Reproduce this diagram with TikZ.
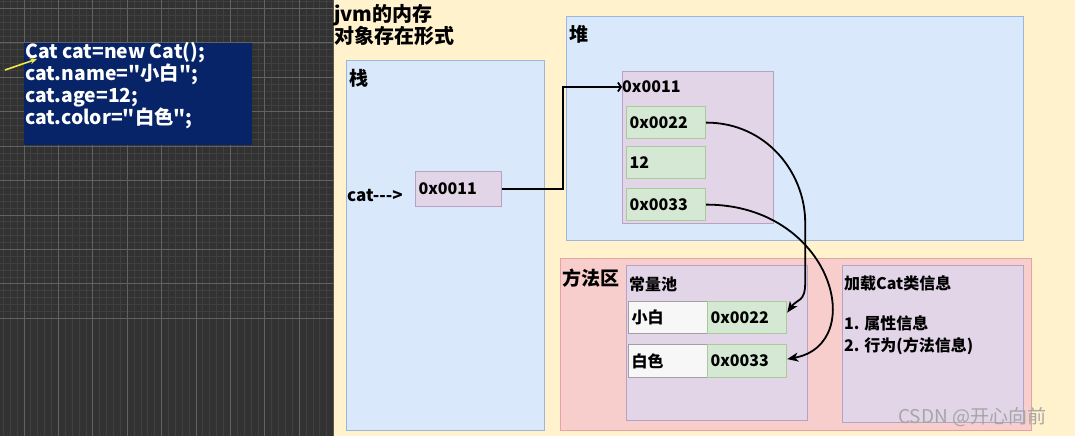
\documentclass[tikz,border=0pt]{standalone}
\usepackage{fontspec}
\setmainfont{Noto Sans CJK SC}
\newfontfamily\plainfont{Noto Sans CJK SC}
\usetikzlibrary{arrows.meta}
\definecolor{gridbg}{HTML}{323232}
\definecolor{gridminor}{HTML}{404040}
\definecolor{gridmajor}{HTML}{626262}
\definecolor{codebg}{HTML}{082468}
\definecolor{paper}{HTML}{FFF2CC}
\definecolor{bluefill}{HTML}{DAE8FC}
\definecolor{blueline}{HTML}{9DB6DC}
\definecolor{purplefill}{HTML}{E1D5E7}
\definecolor{purpleline}{HTML}{B7A2C6}
\definecolor{greenfill}{HTML}{D5E8D4}
\definecolor{greenline}{HTML}{A9CB9A}
\definecolor{redfill}{HTML}{F8CECC}
\definecolor{redline}{HTML}{E5A3A1}
\definecolor{whitefill}{HTML}{F7F7F7}
\definecolor{whiteline}{HTML}{A0A0A0}
\definecolor{pointer}{HTML}{F2E84A}
\newcommand{\lbl}[1]{\bfseries\fontsize{#1}{22}\selectfont}

\begin{document}
\begin{tikzpicture}[x=1pt,y=-1pt,
  box/.style={anchor=north west,inner sep=0pt,line width=1.2pt},
  bluebox/.style={box,fill=bluefill,draw=blueline},
  purplebox/.style={box,fill=purplefill,draw=purpleline},
  redbox/.style={box,fill=redfill,draw=redline},
  cell/.style={box,minimum height=32pt,minimum width=78pt,text width=73pt,
    inner xsep=3pt,align=left,font=\lbl{16}},
  greencell/.style={cell,fill=greenfill,draw=greenline},
  whitecell/.style={cell,fill=whitefill,draw=whiteline},
  tag/.style={anchor=west,inner sep=0pt,font=\lbl{#1}},
  link/.style={line width=1.8pt,-{Stealth[length=11pt,width=9pt,inset=3pt]}}]
  \useasboundingbox (0,0) rectangle (1075,436);

  % dark grid on the left
  \fill[gridbg] (0,0) rectangle (333,436);
  \begin{scope}
    \clip (0,0) rectangle (333,436);
    \foreach \k in {0,...,50} {
      \draw[gridminor,line width=0.8pt] (-10.4+6.88*\k,0) -- (-10.4+6.88*\k,436);
      \draw[gridminor,line width=0.8pt] (0,-25.8+6.88*\k) -- (333,-25.8+6.88*\k);
    }
    \foreach \k in {0,...,10} {
      \draw[gridmajor,line width=1pt] (-10.4+34.4*\k,0) -- (-10.4+34.4*\k,436);
      \draw[gridmajor,line width=1pt] (0,-25.8+34.4*\k) -- (333,-25.8+34.4*\k);
    }
  \end{scope}

  % code
  \node[box,fill=codebg,minimum width=228pt,minimum height=102pt] (code) at (23,42) {};
  \node[anchor=north west,inner sep=0pt,align=left,text=white,
    font=\plainfont\bfseries\fontsize{19.3}{22}\selectfont] (codetxt) at (25,42)
    {Cat cat=new Cat();\\cat.name="小白";\\cat.age=12;\\cat.color="白色";};
  \coordinate (ptrtail) at (5,70);
  \coordinate (ptrhead) at (37,59);
  \draw[pointer,line width=1.6pt,-{Stealth[length=7pt,width=6pt]}] (ptrtail) -- (ptrhead);

  % jvm memory
  \fill[paper] (333,0) rectangle (1075,436);
  \draw[gridbg!80!paper,line width=1pt] (333.5,0) -- (333.5,436);
  \node[anchor=north west,inner sep=0pt,align=left,font=\lbl{20}] (title) at (334,4)
    {jvm的内存\\对象存在形式};

  % stack
  \node[bluebox,minimum width=198pt,minimum height=370pt] (stack) at (346,60) {};
  \node[tag=19] (stacklbl) at (349,78) {栈};
  \node[tag=17] (catvar) at (347,195) {\plainfont cat--->};
  \node[purplebox,minimum width=86pt,minimum height=35pt,text width=80pt,
    inner xsep=3pt,align=left,font=\lbl{16}] (s0011) at (415,171) {0x0011};

  % heap
  \node[bluebox,minimum width=457pt,minimum height=224pt] (heap) at (566,16) {};
  \node[tag=19] (heaplbl) at (569,34) {堆};
  \node[purplebox,minimum width=151pt,minimum height=152pt] (obj) at (622,71) {};
  \node[tag=16] (oaddr) at (622,87) {0x0011};
  \node[greencell] (f22) at (626,106) {0x0022};
  \node[greencell] (f12) at (626,146) {12};
  \node[greencell] (f33) at (626,188) {0x0033};

  % method area
  \node[redbox,minimum width=471pt,minimum height=172pt] (method) at (560,258) {};
  \node[tag=19] (methodlbl) at (562,278) {方法区};
  \node[purplebox,minimum width=181pt,minimum height=155pt] (pool) at (626,265) {};
  \node[tag=16] (poollbl) at (629,284) {常量池};
  \node[whitecell] (s1) at (628,301) {小白};
  \node[greencell,minimum width=79pt] (p22) at (707,301) {0x0022};
  \node[whitecell,minimum height=33pt] (s2) at (628,344) {白色};
  \node[greencell,minimum width=79pt,minimum height=33pt] (p33) at (707,344) {0x0033};
  \node[purplebox,minimum width=181pt,minimum height=157pt] (klass) at (842,265) {};
  \node[tag=16] (klasslbl) at (844,283) {加载Cat类信息};
  \node[tag=16,align=left] (klassinfo) at (844,335) {1. 属性信息\\2. 行为(方法信息)};

  \node[anchor=west,inner sep=0pt,text=gray!70,font=\fontsize{19}{22}\selectfont]
    (mark) at (898,417) {CSDN @开心向前};

  % references
  \draw[line width=1.8pt,-{Straight Barb[length=3pt,width=9pt]}]
    (s0011.east) -- ++(61,0) |- (oaddr.west);
  \draw[link] (f22.east) .. controls +(60,0) and +(0,-50) .. ++(99,100)
    -- ++(0,60) .. controls +(0,20) and +(10,-14) .. ([yshift=5pt]p22.east);
  \draw[link] (f33.east) .. controls +(126,0) and +(82,-15) .. ([yshift=2pt]p33.east);
\end{tikzpicture}
\end{document}
